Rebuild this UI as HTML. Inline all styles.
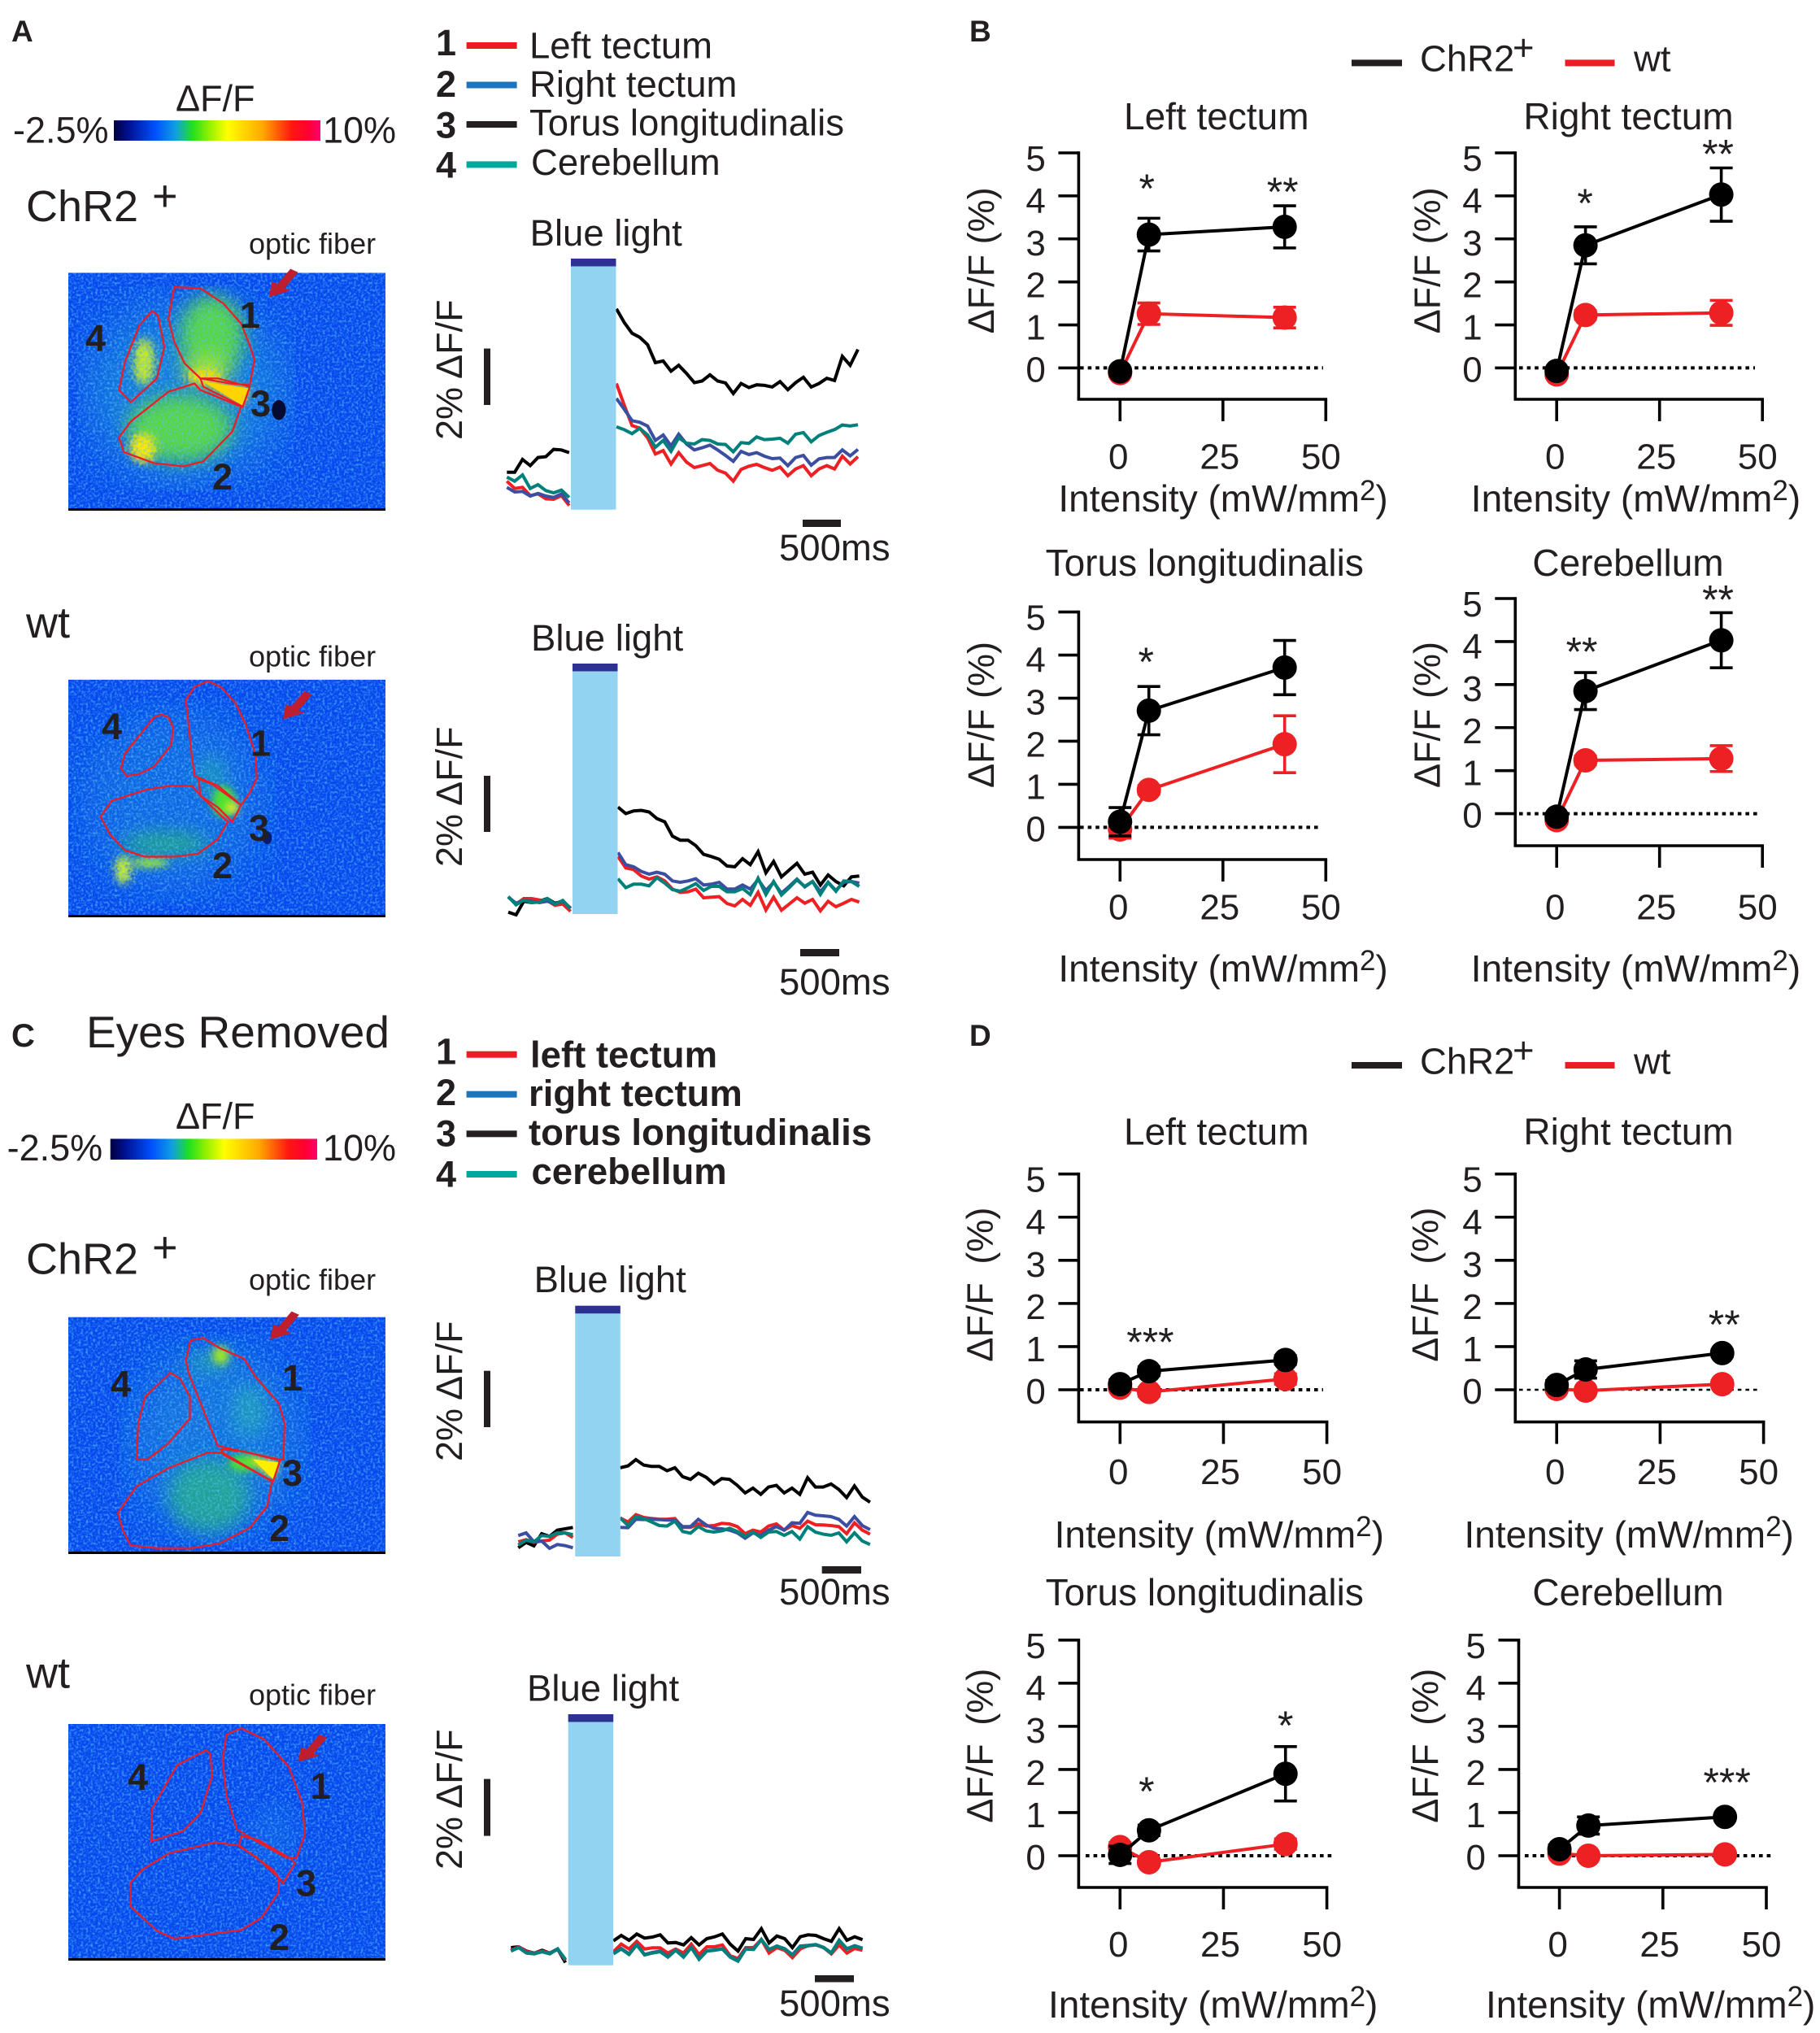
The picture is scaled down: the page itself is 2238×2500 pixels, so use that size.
<!DOCTYPE html>
<html lang="en">
<head>
<meta charset="utf-8">
<title>Optogenetic activation and calcium imaging figure</title>
<style>
  html,body{margin:0;padding:0;background:#fff;}
  svg{display:block;}
  text{font-family:"Liberation Sans",sans-serif;fill:#231f20;white-space:pre;}
  .t45{font-size:45.5px;}
  .t45c{font-size:45px;}
  .t54{font-size:54px;}
  .t36{font-size:36px;}
  .bold{font-weight:bold;}
  .roi{fill:none;stroke:#ed1c24;stroke-width:2.2;vector-effect:non-scaling-stroke;stroke-linejoin:round;}
  .digit{font-size:45px;font-weight:bold;}
</style>
</head>
<body>
<svg id="figure" xmlns="http://www.w3.org/2000/svg" width="2238" height="2500" viewBox="0 0 2238 2500">
  <defs>
    <linearGradient id="cbar" x1="0" x2="1" y1="0" y2="0">
      <stop offset="0" stop-color="#00003c"/>
      <stop offset=".07" stop-color="#001090"/>
      <stop offset=".2" stop-color="#0050ff"/>
      <stop offset=".3" stop-color="#10a0e0"/>
      <stop offset=".38" stop-color="#20e020"/>
      <stop offset=".46" stop-color="#90f000"/>
      <stop offset=".55" stop-color="#ffff00"/>
      <stop offset=".72" stop-color="#ffa800"/>
      <stop offset=".86" stop-color="#ff1810"/>
      <stop offset=".94" stop-color="#ff0030"/>
      <stop offset="1" stop-color="#ff0070"/>
    </linearGradient>
    <filter id="noise" x="0" y="0" width="100%" height="100%">
      <feTurbulence type="fractalNoise" baseFrequency="0.34" numOctaves="2" seed="4"/>
      <feColorMatrix type="matrix" values="0 0 0 0 0.1  0 0 0 0 0.55  0 0 0 0 0.95  2.2 0 0 0 -0.95"/>
    </filter>
    <filter id="mottle" x="-5%" y="-5%" width="110%" height="110%">
      <feTurbulence type="fractalNoise" baseFrequency="0.2 0.11" numOctaves="2" seed="9" result="n"/>
      <feDisplacementMap in="SourceGraphic" in2="n" scale="26" xChannelSelector="R" yChannelSelector="G"/>
    </filter>
    <filter id="blurL" x="-100%" y="-100%" width="300%" height="300%"><feGaussianBlur stdDeviation="40 70"/></filter>
    <filter id="blurM" x="-100%" y="-100%" width="300%" height="300%"><feGaussianBlur stdDeviation="16 28"/></filter>
    <filter id="blurS" x="-100%" y="-100%" width="300%" height="300%"><feGaussianBlur stdDeviation="7 12"/></filter>
    <clipPath id="clipA1"><rect x="84" y="335.5" width="390" height="289.5"/></clipPath>
    <clipPath id="clipA2"><rect x="84" y="835.7" width="390" height="289.3"/></clipPath>
    <clipPath id="clipC1"><rect x="84" y="1619.6" width="390" height="288.4"/></clipPath>
    <clipPath id="clipC2"><rect x="84" y="2120" width="390" height="288"/></clipPath>
  </defs>

  <!-- PANEL A -->
  <text class="bold" font-size="37" x="14" y="51">A</text>
  <text class="t45c" x="216" y="136.7">ΔF/F</text>
  <text class="t45c" x="16" y="175.5">-2.5%</text>
  <rect x="140" y="148" width="254" height="25" fill="url(#cbar)"/>
  <text class="t45c" x="397" y="175.5">10%</text>

  <g>
    <text class="digit" x="536" y="68">1</text>
    <rect x="573.6" y="52" width="62" height="8" fill="#ed1c24"/>
    <text class="t45" x="651" y="71.4">Left tectum</text>
    <text class="digit" x="536" y="119">2</text>
    <rect x="573.6" y="100.5" width="62" height="8" fill="#1c75bc"/>
    <text class="t45" x="651" y="118.8">Right tectum</text>
    <text class="digit" x="536" y="169.5">3</text>
    <rect x="573.6" y="149" width="62" height="8" fill="#231f20"/>
    <text class="t45" x="651" y="166.5">Torus longitudinalis</text>
    <text class="digit" x="536" y="218.5">4</text>
    <rect x="573.6" y="198.4" width="62" height="8" fill="#00a79d"/>
    <text class="t45" x="653" y="215">Cerebellum</text>
  </g>

  <text class="t54" x="32" y="272">ChR2</text>
  <text class="t54" x="187" y="259">+</text>
  <text class="t36" x="306" y="312">optic fiber</text>

  <!-- Image A1 -->
  <g clip-path="url(#clipA1)">
    <rect x="84" y="335.5" width="390" height="290" fill="#0648ee"/>
    <g transform="scale(.7143,.4082)">
      <g filter="url(#mottle)">
        <ellipse cx="320" cy="1180" rx="170" ry="270" fill="#1b9ad0" opacity=".6" filter="url(#blurL)"/>
        <ellipse cx="365" cy="1010" rx="55" ry="120" fill="#58d640" filter="url(#blurM)"/>
        <ellipse cx="355" cy="1110" rx="40" ry="40" fill="#a8e820" filter="url(#blurM)"/>
        <ellipse cx="310" cy="1290" rx="90" ry="100" fill="#58d640" filter="url(#blurM)"/>
        <ellipse cx="248" cy="1090" rx="18" ry="70" fill="#c8e820" filter="url(#blurS)"/>
        <ellipse cx="246" cy="1350" rx="22" ry="45" fill="#ffe800" filter="url(#blurS)"/>
        <ellipse cx="352" cy="1135" rx="30" ry="22" fill="#ffe000" filter="url(#blurS)"/>
      </g>
    </g>
    <rect x="84" y="335.5" width="390" height="290" filter="url(#noise)" opacity=".8"/>
    <g transform="scale(.7143,.4082)">
      <polygon points="350,1150 430,1170 418,1222" fill="#ffd400" filter="url(#blurS)"/>
      <polygon points="350,1150 430,1170 418,1222" fill="#ffd400"/>
      <ellipse cx="480" cy="1235" rx="12" ry="30" fill="#050a30"/>
      <polygon class="roi" points="300,865 345,868 385,915 415,975 430,1040 438,1085 430,1160 395,1155 345,1140 318,1095 300,1030 290,960"/>
      <polygon class="roi" points="335,1155 345,1175 415,1225 400,1300 350,1390 315,1405 265,1395 213,1362 205,1318 225,1270 290,1180"/>
      <polygon class="roi" points="345,1140 375,1140 430,1165 418,1225 350,1165"/>
      <polygon class="roi" points="262,937 272,950 283,1045 270,1140 225,1212 205,1175 215,1090 240,980"/>
    </g>
  </g>
  <g transform="scale(.7143,.4082)">
    <polygon fill="#be1e2d" transform="translate(463,895)" points="0,0 5,-45 15,-40 37,-85 50,-75 27,-27 37,-20"/>
  </g>
  <rect x="84" y="625" width="390" height="3" fill="#000"/>
  <text class="digit" x="295" y="403">1</text>
  <text class="digit" x="261" y="602">2</text>
  <text class="digit" x="308" y="512">3</text>
  <text class="digit" x="105" y="431.5">4</text>

  <text class="t45" x="651.6" y="302">Blue light</text>
  <text class="t45c" transform="translate(568,541) rotate(-90)">2% ΔF/F</text>
  <rect x="595" y="428.6" width="8" height="69.4" fill="#231f20"/>
  <rect x="987" y="639" width="47" height="9" fill="#231f20"/>
  <text class="t45" x="958" y="689">500ms</text>

  <text class="t54" x="32" y="784">wt</text>
  <text class="t36" x="306" y="819.6">optic fiber</text>

  <!-- Image A2 -->
  <g clip-path="url(#clipA2)">
    <rect x="84" y="835.7" width="390" height="290" fill="#0648ee"/>
    <g transform="translate(0,700) scale(.7143,.3571)">
      <g filter="url(#mottle)">
        <ellipse cx="300" cy="800" rx="160" ry="320" fill="#1c8cd8" opacity=".45" filter="url(#blurL)"/>
        <ellipse cx="285" cy="945" rx="75" ry="45" fill="#28c060" opacity=".6" filter="url(#blurM)"/>
        <ellipse cx="365" cy="710" rx="22" ry="70" fill="#20b0a0" opacity=".6" filter="url(#blurM)"/>
        <ellipse cx="258" cy="1012" rx="32" ry="16" fill="#a0e828" filter="url(#blurS)"/>
        <ellipse cx="212" cy="1035" rx="13" ry="50" fill="#d0f020" filter="url(#blurS)"/>
      </g>
    </g>
    <rect x="84" y="835.7" width="390" height="290" filter="url(#noise)" opacity=".8"/>
    <g transform="translate(0,700) scale(.7143,.3571)">
      <ellipse cx="385" cy="800" rx="20" ry="55" fill="#50e030" filter="url(#blurS)"/>
      <ellipse cx="400" cy="822" rx="10" ry="22" fill="#f0f020" filter="url(#blurS)"/>
      <ellipse cx="460" cy="925" rx="8" ry="22" fill="#0a1a70"/>
      <polygon class="roi" points="358,385 380,405 405,460 422,530 440,640 442,720 430,770 415,812 375,745 335,712 330,640 325,540 320,450 335,405"/>
      <polygon class="roi" points="330,745 295,745 250,760 192,798 173,852 190,915 215,968 250,990 300,990 340,980 375,930 392,870 350,790"/>
      <polygon class="roi" points="342,722 365,740 415,812 400,870 375,820 345,780"/>
      <polygon class="roi" points="278,500 290,510 298,545 295,605 265,680 240,705 218,712 208,685 215,635 245,560 265,510"/>
      <polygon fill="#be1e2d" transform="translate(487,517) scale(1,1.14)" points="0,0 5,-45 15,-40 37,-85 50,-75 27,-27 37,-20"/>
    </g>
  </g>
  <rect x="84" y="1125" width="390" height="3" fill="#000"/>
  <text class="digit" x="308" y="929.6">1</text>
  <text class="digit" x="261" y="1080">2</text>
  <text class="digit" x="306" y="1034">3</text>
  <text class="digit" x="125" y="909">4</text>

  <text class="t45" x="653" y="800">Blue light</text>
  <text class="t45c" transform="translate(568,1066) rotate(-90)">2% ΔF/F</text>
  <rect x="595" y="954" width="8" height="69" fill="#231f20"/>
  <rect x="984" y="1167" width="48" height="9" fill="#231f20"/>
  <text class="t45" x="958" y="1223">500ms</text>

  <!-- PANEL C -->
  <text class="bold" font-size="40" x="14" y="1287">C</text>
  <text font-size="55" x="106" y="1288">Eyes Removed</text>
  <text class="t45c" x="216" y="1387.8">ΔF/F</text>
  <text class="t45c" x="8.6" y="1427">-2.5%</text>
  <rect x="135.7" y="1400.4" width="254.3" height="25.6" fill="url(#cbar)"/>
  <text class="t45c" x="397" y="1427">10%</text>

  <g>
    <text class="digit" x="536" y="1308.5">1</text>
    <rect x="573.6" y="1292.7" width="62" height="8" fill="#ed1c24"/>
    <text class="t45 bold" x="652" y="1312.7">left tectum</text>
    <text class="digit" x="536" y="1359">2</text>
    <rect x="573.6" y="1341.7" width="62" height="8" fill="#1c75bc"/>
    <text class="t45 bold" x="650" y="1360">right tectum</text>
    <text class="digit" x="536" y="1409.6">3</text>
    <rect x="573.6" y="1390.3" width="62" height="8" fill="#231f20"/>
    <text class="t45 bold" x="650" y="1408">torus longitudinalis</text>
    <text class="digit" x="536" y="1459.5">4</text>
    <rect x="573.6" y="1440" width="62" height="8" fill="#00a79d"/>
    <text class="t45 bold" x="653.5" y="1456">cerebellum</text>
  </g>

  <text class="t54" x="32" y="1566.5">ChR2</text>
  <text class="t54" x="187" y="1552">+</text>
  <text class="t36" x="306" y="1586">optic fiber</text>

  <!-- Image C1 -->
  <g clip-path="url(#clipC1)">
    <rect x="84" y="1619.6" width="390" height="289" fill="#0648ee"/>
    <g transform="translate(0,1240) scale(.7143,.4082)">
      <g filter="url(#mottle)">
        <ellipse cx="370" cy="1300" rx="150" ry="290" fill="#1c90d4" opacity=".55" filter="url(#blurL)"/>
        <ellipse cx="360" cy="1470" rx="70" ry="110" fill="#28b878" opacity=".7" filter="url(#blurM)"/>
        <ellipse cx="430" cy="1210" rx="30" ry="80" fill="#20a8b0" opacity=".7" filter="url(#blurM)"/>
        <ellipse cx="360" cy="1065" rx="40" ry="30" fill="#28b890" opacity=".6" filter="url(#blurM)"/>
      </g>
    </g>
    <rect x="84" y="1619.6" width="390" height="289" filter="url(#noise)" opacity=".8"/>
    <g transform="translate(0,1240) scale(.7143,.4082)">
      <ellipse cx="380" cy="1045" rx="14" ry="28" fill="#a0e828" filter="url(#blurS)"/>
      <ellipse cx="420" cy="1370" rx="26" ry="26" fill="#50e030" filter="url(#blurS)"/>
      <polygon points="425,1350 480,1368 470,1420" fill="#ffee00" filter="url(#blurS)"/>
      <polygon points="435,1358 480,1368 470,1418" fill="#ffee00"/>
      <polygon class="roi" points="328,1000 350,993 380,1025 420,1055 440,1110 480,1190 490,1250 488,1360 470,1355 375,1318 350,1210 325,1100 320,1060"/>
      <polygon class="roi" points="358,1338 385,1340 468,1425 460,1500 430,1565 378,1612 330,1626 270,1626 225,1618 212,1575 203,1520 235,1440 290,1385"/>
      <polygon class="roi" points="380,1328 420,1335 482,1362 470,1425 385,1345"/>
      <polygon class="roi" points="293,1098 310,1115 327,1170 327,1235 290,1310 255,1358 235,1358 238,1250 250,1170"/>
    </g>
  </g>
  <g transform="translate(0,1240) scale(.7143,.4082)">
    <polygon fill="#be1e2d" transform="translate(465,998)" points="0,0 5,-45 15,-40 37,-85 50,-75 27,-27 37,-20"/>
  </g>
  <rect x="84" y="1908" width="390" height="3" fill="#000"/>
  <text class="digit" x="347" y="1710">1</text>
  <text class="digit" x="331" y="1895">2</text>
  <text class="digit" x="347" y="1827">3</text>
  <text class="digit" x="136" y="1717.6">4</text>

  <text class="t45" x="656.6" y="1589">Blue light</text>
  <text class="t45c" transform="translate(568,1797) rotate(-90)">2% ΔF/F</text>
  <rect x="595" y="1685.7" width="8" height="69.3" fill="#231f20"/>
  <rect x="1010.7" y="1926" width="48.3" height="9" fill="#231f20"/>
  <text class="t45" x="958" y="1973">500ms</text>

  <text class="t54" x="32" y="2075.7">wt</text>
  <text class="t36" x="306" y="2096.7">optic fiber</text>

  <!-- Image C2 -->
  <g clip-path="url(#clipC2)">
    <rect x="84" y="2120" width="390" height="289" fill="#0648ee"/>
    <g transform="translate(0,1880) scale(.7143,.3954)">
      <ellipse cx="470" cy="960" rx="40" ry="110" fill="#1a80e0" opacity=".3" filter="url(#blurM)"/>
    </g>
    <rect x="84" y="2120" width="390" height="289" filter="url(#noise)" opacity=".8"/>
    <g transform="translate(0,1880) scale(.7143,.3954)">
      <polygon class="roi" points="415,620 455,655 497,740 520,850 525,950 510,1025 490,1020 440,970 408,935 390,830 383,720 390,640"/>
      <polygon class="roi" points="370,975 410,985 440,1020 480,1085 480,1130 450,1210 415,1248 300,1275 270,1250 225,1175 225,1100 245,1060 290,1010"/>
      <polygon class="roi" points="415,955 445,968 500,1025 508,1040 487,1103 470,1060 412,985"/>
      <polygon class="roi" points="355,688 362,700 365,770 345,885 315,940 260,972 262,870 305,735"/>
      <polygon fill="#be1e2d" transform="translate(513,725)" points="0,0 5,-45 15,-40 37,-85 50,-75 27,-27 37,-20"/>
    </g>
  </g>
  <rect x="84" y="2408" width="390" height="3" fill="#000"/>
  <text class="digit" x="381.6" y="2212">1</text>
  <text class="digit" x="331" y="2398">2</text>
  <text class="digit" x="364" y="2331.6">3</text>
  <text class="digit" x="157" y="2201">4</text>

  <text class="t45" x="648" y="2091.5">Blue light</text>
  <text class="t45c" transform="translate(568,2299) rotate(-90)">2% ΔF/F</text>
  <rect x="595" y="2187.6" width="8" height="70" fill="#231f20"/>
  <rect x="1002" y="2429" width="48" height="8.5" fill="#231f20"/>
  <text class="t45" x="958" y="2479">500ms</text>

  <!-- PANEL B legend -->
  <text class="bold" font-size="37" x="1192" y="51">B</text>
  <rect x="1662" y="73.4" width="62" height="8" fill="#231f20"/>
  <text class="t45" x="1746" y="87.5">ChR2</text>
  <text class="t45" x="1860" y="74">+</text>
  <rect x="1924.5" y="73.4" width="61" height="8" fill="#ed1c24"/>
  <text class="t45" x="2009" y="87.5">wt</text>

  <!-- PANEL D legend -->
  <text class="bold" font-size="37" x="1192" y="1286">D</text>
  <rect x="1662" y="1306" width="62" height="8" fill="#231f20"/>
  <text class="t45" x="1746" y="1320.4">ChR2</text>
  <text class="t45" x="1860" y="1307">+</text>
  <rect x="1924.5" y="1306" width="61" height="8" fill="#ed1c24"/>
  <text class="t45" x="2009" y="1320.4">wt</text>

  <g id="traces"></g>
  <g id="charts"></g>
</svg>

<script>
/* ---------- dose-response chart data (deltaF/F %) ---------- */
const intensities = [0, 7, 40];
const xTickValues = [0, 25, 50];
const yTickValues = [0, 1, 2, 3, 4, 5];
const yTitle = "ΔF/F (%)";

const bLeftChr = [-0.08, 3.10, 3.28];
const bLeftChrErr = [0.08, 0.38, 0.49];
const bLeftWt = [-0.12, 1.26, 1.17];
const bLeftWtErr = [0.08, 0.25, 0.24];

const bRightChr = [-0.07, 2.85, 4.03];
const bRightChrErr = [0.08, 0.43, 0.62];
const bRightWt = [-0.15, 1.23, 1.28];
const bRightWtErr = [0.08, 0.1, 0.29];

const bTorusChr = [0.13, 2.71, 3.71];
const bTorusChrErr = [0.33, 0.56, 0.63];
const bTorusWt = [-0.05, 0.87, 1.93];
const bTorusWtErr = [0.2, 0.1, 0.66];

const bCerebChr = [-0.07, 2.85, 4.03];
const bCerebChrErr = [0.08, 0.43, 0.64];
const bCerebWt = [-0.15, 1.24, 1.28];
const bCerebWtErr = [0.08, 0.1, 0.3];

const dLeftChr = [0.13, 0.43, 0.69];
const dLeftChrErr = [0.1, 0.1, 0.1];
const dLeftWt = [0.05, -0.05, 0.25];
const dLeftWtErr = [0.05, 0.1, 0.12];

const dRightChr = [0.11, 0.47, 0.85];
const dRightChrErr = [0.1, 0.2, 0.08];
const dRightWt = [0.02, -0.02, 0.13];
const dRightWtErr = [0.05, 0.05, 0.08];

const dTorusChr = [0.02, 0.59, 1.90];
const dTorusChrErr = [0.2, 0.12, 0.63];
const dTorusWt = [0.20, -0.15, 0.27];
const dTorusWtErr = [0.1, 0.05, 0.12];

const dCerebChr = [0.15, 0.70, 0.90];
const dCerebChrErr = [0.1, 0.2, 0.06];
const dCerebWt = [0.05, 0.00, 0.03];
const dCerebWtErr = [0.05, 0.05, 0.05];

/* significance marks: [intensity, %, label] */
const bLeftStars = [[6.5, 4.3, "*"], [39.5, 4.22, "**"]];
const bRightStars = [[6.9, 3.96, "*"], [39.2, 5.1, "**"]];
const bTorusStars = [[6.3, 3.97, "*"]];
const bCerebStars = [[6.1, 3.89, "**"], [39.2, 5.1, "**"]];
const dLeftStars = [[7.3, 1.23, "***"]];
const dRightStars = [[40.5, 1.64, "**"]];
const dTorusStars = [[6.4, 1.62, "*"], [40.0, 3.15, "*"]];
const dCerebStars = [[40.5, 1.83, "***"]];

/* ---------- trace data: ΔF/F signal, 104 units = 1 % ---------- */
const signalPerPercent = 104;

const a1BlackPre = [138,138,185,162,192,195,222,220,210];
const a1BlackPost = [740,690,650,635,608,542,548,510,532,502,468,474,497,474,467,428,465,450,460,458,452,472,442,468,488,452,465,484,476,565,532,590];
const a1RedPre = [105,78,82,52,58,40,38,52,15];
const a1RedPost = [465,385,310,300,265,205,218,168,210,175,155,162,170,145,135,105,148,160,167,155,145,157,125,150,162,125,150,162,150,197,168,195];
const a1BluePre = [82,65,67,50,60,50,45,58,25];
const a1BluePost = [410,370,328,322,308,255,275,235,278,242,220,228,238,220,200,178,215,203,210,197,188,190,162,192,200,164,187,192,192,220,198,222];
const a1TealPre = [120,105,128,78,92,70,62,72,45];
const a1TealPost = [305,295,280,300,275,230,255,215,265,245,242,258,255,242,240,213,247,244,268,258,260,263,245,278,284,250,273,285,295,312,308,313];

const a2BlackPre = [7,-3,47,42,47,57,40,47,22];
const a2BlackPost = [394,370,380,382,376,352,340,287,272,272,252,220,212,202,177,174,204,182,230,152,194,137,162,187,147,154,107,144,120,104,137,140];
const a2RedPre = [64,37,57,57,52,50,32,37,10];
const a2RedPost = [212,170,164,140,129,137,122,92,80,82,92,60,62,64,39,30,54,32,80,15,62,14,37,60,40,54,12,47,27,40,54,44];
const a2BluePre = [62,40,50,47,42,47,37,47,22];
const a2BluePost = [227,182,174,157,147,154,147,122,117,122,130,107,110,117,92,92,107,92,127,87,117,77,102,129,100,120,82,117,87,117,120,114];
const a2TealPre = [64,34,52,42,44,57,37,50,20];
const a2TealPost = [130,97,110,110,104,134,114,90,84,97,112,87,102,102,82,82,94,72,132,72,120,70,97,126,102,120,72,117,84,122,120,102];

const c1BlackPre = [32,52,39,84,74,97,102,107];
const c1BlackPost = [327,334,357,337,332,332,316,327,294,284,307,292,267,287,284,262,234,252,229,256,262,234,252,229,290,256,256,267,247,217,260,219,200];
const c1RedPre = [54,62,52,57,60,82,87,70];
const c1RedPost = [142,127,154,144,140,137,137,140,107,107,120,112,114,122,120,110,84,97,90,112,120,97,114,104,130,117,116,114,110,84,124,97,82];
const c1BluePre = [77,87,54,57,30,44,40,32];
const c1BluePost = [107,106,137,136,137,136,134,134,110,110,137,116,104,102,97,87,67,87,77,97,110,97,124,122,162,152,150,147,137,112,147,114,99];
const c1TealPre = [42,60,54,77,74,87,87,80];
const c1TealPost = [142,114,147,140,127,114,112,130,92,86,110,94,90,94,104,92,74,90,70,90,92,78,92,64,110,90,82,78,87,54,87,57,44];

const c2BlackPre = [65,68,52,45,55,45,60,10];
const c2BlackPost = [90,110,92,115,100,104,112,82,84,75,102,75,98,105,115,78,52,98,95,135,82,108,98,65,105,112,110,98,88,135,92,105,94];
const c2RedPre = [55,68,50,45,52,45,58,18];
const c2RedPost = [50,78,60,88,60,64,64,45,60,45,78,40,68,68,75,35,25,65,65,95,45,65,55,28,60,72,75,65,42,75,45,62,55];
const c2BluePre = [53,66,46,43,50,43,60,20];
const c2BluePost = [44,62,42,76,40,47,52,32,56,32,66,24,54,56,61,32,17,61,59,95,58,71,61,39,71,73,76,66,46,92,61,72,63];
const c2TealPre = [52,65,45,42,50,42,60,22];
const c2TealPost = [42,60,40,75,38,45,50,30,55,30,65,22,52,55,60,30,15,60,58,95,58,70,60,38,70,72,76,65,45,92,60,72,62];

/* ---------- drawing ---------- */
const NS = "http://www.w3.org/2000/svg";
function mk(parent, tag, attrs, txt) {
  const el = document.createElementNS(NS, tag);
  for (const k in attrs) el.setAttribute(k, attrs[k]);
  if (txt !== undefined) el.textContent = txt;
  parent.appendChild(el);
  return el;
}

function drawTraces(key, g, lay, series) {
  const root = mk(g, "g", {});
  
  
  const xAt = i => lay.x0 + i * lay.step;
  const yAt = v => lay.base - v * (lay.pxPerPercent / signalPerPercent);
  series.forEach(s => {
    const sg = mk(root, "g", {});
    
    
    [[s.pre, 0], [s.post, lay.postStart]].forEach(([vals, start]) => {
      const d = vals.map((v, i) => (i ? "L" : "M") + xAt(start + i).toFixed(1) + " " + yAt(v).toFixed(1)).join("");
      const p = mk(sg, "path", {d: d, fill: "none", stroke: s.color, "stroke-width": 4, "stroke-linejoin": "miter"});
      
      
    });
  });
  const bar = mk(root, "rect", {x: lay.barX, y: lay.barTop, width: 55.5, height: lay.base - lay.barTop, fill: "#91d3f0"});
  
  
  const top = mk(root, "rect", {x: lay.barX, y: lay.barTop, width: 55.5, height: 9.5, fill: "#2e3192"});
  
  
}

const traceG = document.getElementById("traces");
const colBlack = "#000", colRed = "#ed2024", colBlue = "#3b4ea2", colTeal = "#00807a";
drawTraces("a-chr2", traceG, {x0: 623.3, step: 9.58, postStart: 14.06, base: 626.7, pxPerPercent: 34.7, barX: 702, barTop: 318}, [
  {name: "torus", color: colBlack, pre: a1BlackPre, post: a1BlackPost},
  {name: "left-tectum", color: colRed, pre: a1RedPre, post: a1RedPost},
  {name: "right-tectum", color: colBlue, pre: a1BluePre, post: a1BluePost},
  {name: "cerebellum", color: colTeal, pre: a1TealPre, post: a1TealPost}
]);
drawTraces("a-wt", traceG, {x0: 625, step: 9.57, postStart: 14.1, base: 1124, pxPerPercent: 34.7, barX: 704, barTop: 816}, [
  {name: "torus", color: colBlack, pre: a2BlackPre, post: a2BlackPost},
  {name: "left-tectum", color: colRed, pre: a2RedPre, post: a2RedPost},
  {name: "right-tectum", color: colBlue, pre: a2BluePre, post: a2BluePost},
  {name: "cerebellum", color: colTeal, pre: a2TealPre, post: a2TealPost}
]);
drawTraces("c-chr2", traceG, {x0: 637.3, step: 9.6, postStart: 13.06, base: 1914, pxPerPercent: 34.7, barX: 707.3, barTop: 1605.7}, [
  {name: "torus", color: colBlack, pre: c1BlackPre, post: c1BlackPost},
  {name: "left-tectum", color: colRed, pre: c1RedPre, post: c1RedPost},
  {name: "right-tectum", color: colBlue, pre: c1BluePre, post: c1BluePost},
  {name: "cerebellum", color: colTeal, pre: c1TealPre, post: c1TealPost}
]);
drawTraces("c-wt", traceG, {x0: 628.3, step: 9.57, postStart: 13.17, base: 2416.7, pxPerPercent: 34.7, barX: 698.7, barTop: 2108}, [
  {name: "torus", color: colBlack, pre: c2BlackPre, post: c2BlackPost},
  {name: "left-tectum", color: colRed, pre: c2RedPre, post: c2RedPost},
  {name: "right-tectum", color: colBlue, pre: c2BluePre, post: c2BluePost},
  {name: "cerebellum", color: colTeal, pre: c2TealPre, post: c2TealPost}
]);

function drawChart(key, L, d) {
  const chartsG = document.getElementById("charts");
  const g = mk(chartsG, "g", {});
  
  
  const X = v => L.x0 + v * (L.x50 - L.x0) / 50;
  const Y = v => L.y0 + v * (L.y5 - L.y0) / 5;
  const sw = 3.6;

  const title = mk(g, "text", {x: L.titleX - 3, y: L.titleY, "font-size": 46}, d.title);
  
  

  const yt = mk(g, "text", {transform: "translate(" + L.ylX + "," + L.ylY + ") rotate(-90)", "font-size": 45, "word-spacing": (L.ylWord || 0) + "px"}, yTitle);
  
  

  const yAxis = mk(g, "line", {x1: L.ax, x2: L.ax, y1: Y(5) - sw / 2, y2: L.xAxisY, stroke: "#000", "stroke-width": sw});
  
  
  const xAxis = mk(g, "line", {x1: L.ax - sw / 2, x2: X(50) + sw / 2, y1: L.xAxisY, y2: L.xAxisY, stroke: "#000", "stroke-width": sw});
  
  

  yTickValues.forEach(v => {
    const t = mk(g, "line", {x1: L.ax - 25, x2: L.ax, y1: Y(v), y2: Y(v), stroke: "#000", "stroke-width": sw});
    
    
    const l = mk(g, "text", {x: L.ax - 65, y: Y(v) + 17 + v, "font-size": 44}, String(v));
    
    
  });
  xTickValues.forEach((v, i) => {
    const t = mk(g, "line", {x1: X(v), x2: X(v), y1: L.xAxisY, y2: L.xAxisY + 27, stroke: "#000", "stroke-width": sw});
    
    
    const l = mk(g, "text", {x: X(v) - 2 - i * 2, y: L.xAxisY + L.xLabelDy, "font-size": 44, "text-anchor": "middle"}, String(v));
    
    
  });

  const xt = mk(g, "text", {x: L.xtX - 3, y: L.xtY, "font-size": 46});
  
  
  mk(xt, "tspan", {}, "Intensity (mW/mm");
  mk(xt, "tspan", {dy: -14, "font-size": 35}, "2");
  mk(xt, "tspan", {dy: 14}, ")");

  const zero = mk(g, "line", {x1: L.dotA, x2: L.dotB, y1: Y(0), y2: Y(0), stroke: "#000", "stroke-width": L.dotW || 4, "stroke-dasharray": "4.6 5"});
  
  

  [{name: "wt", color: "#ed2024", vals: d.wt, err: d.wtErr},
   {name: "chr2", color: "#000", vals: d.chr, err: d.chrErr}].forEach(s => {
    const sg = mk(g, "g", {});
    
    
    const pts = s.vals.map((v, i) => X(intensities[i]).toFixed(1) + "," + Y(v).toFixed(1)).join(" ");
    const line = mk(sg, "polyline", {points: pts, fill: "none", stroke: s.color, "stroke-width": 4});
    
    
    s.vals.forEach((v, i) => {
      const cx = X(intensities[i]);
      const e = s.err[i];
      const eb = mk(sg, "path", {
        d: "M" + cx + " " + Y(v + e) + "V" + Y(v - e) +
           "M" + (cx - 14) + " " + Y(v + e) + "H" + (cx + 14) +
           "M" + (cx - 14) + " " + Y(v - e) + "H" + (cx + 14),
        fill: "none", stroke: s.color, "stroke-width": sw});
      
      
      const c = mk(sg, "circle", {cx: cx, cy: Y(v), r: 15, fill: s.color});
      
      
    });
  });

  d.stars.forEach(st => {
    const t = mk(g, "text", {x: X(st[0]), y: Y(st[1]) + 24, "font-size": 50, "text-anchor": "middle"}, st[2]);
    
    
  });
}

const colL = {ax: 1326.4, x0: 1377.3, x50: 1630.3, ylX: 1222};
const colR = {ax: 1863.3, x0: 1914.2, x50: 2167.2, ylX: 1770.5};

drawChart("b-left-tectum",
  {ax: colL.ax, x0: colL.x0, x50: colL.x50, y0: 452.4, y5: 188, xAxisY: 491, xLabelDy: 85.6, titleX: 1385, titleY: 159, ylX: colL.ylX, ylY: 410.4, xtX: 1304.4, xtY: 629, dotA: 1328, dotB: 1627},
  {title: "Left tectum", chr: bLeftChr, chrErr: bLeftChrErr, wt: bLeftWt, wtErr: bLeftWtErr, stars: bLeftStars});
drawChart("b-right-tectum",
  {ax: colR.ax, x0: colR.x0, x50: colR.x50, y0: 452.4, y5: 188, xAxisY: 491, xLabelDy: 85.6, titleX: 1876.4, titleY: 159, ylX: colR.ylX, ylY: 410.4, xtX: 1811.8, xtY: 629, dotA: 1868, dotB: 2158},
  {title: "Right tectum", chr: bRightChr, chrErr: bRightChrErr, wt: bRightWt, wtErr: bRightWtErr, stars: bRightStars});
drawChart("b-torus-longitudinalis",
  {ax: colL.ax, x0: colL.x0, x50: colL.x50, y0: 1017.4, y5: 752.6, xAxisY: 1057, xLabelDy: 73.7, titleX: 1288.6, titleY: 707.8, ylX: colL.ylX, ylY: 969, xtX: 1304.4, xtY: 1207, dotA: 1328, dotB: 1625},
  {title: "Torus longitudinalis", chr: bTorusChr, chrErr: bTorusChrErr, wt: bTorusWt, wtErr: bTorusWtErr, stars: bTorusStars});
drawChart("b-cerebellum",
  {ax: colR.ax, x0: colR.x0, x50: colR.x50, y0: 1000.6, y5: 736, xAxisY: 1040, xLabelDy: 90.7, titleX: 1887.4, titleY: 707.8, ylX: colR.ylX, ylY: 969, xtX: 1811.8, xtY: 1207, dotA: 1868, dotB: 2164},
  {title: "Cerebellum", chr: bCerebChr, chrErr: bCerebChrErr, wt: bCerebWt, wtErr: bCerebWtErr, stars: bCerebStars});
drawChart("d-left-tectum",
  {ax: colL.ax, x0: colL.x0, x50: 1631.6, y0: 1709, y5: 1443.7, xAxisY: 1748.6, xLabelDy: 76.4, titleX: 1385, titleY: 1407.3, ylX: 1220.5, ylY: 1674.7, ylWord: 10, xtX: 1299.6, xtY: 1903, dotA: 1328, dotB: 1627},
  {title: "Left tectum", chr: dLeftChr, chrErr: dLeftChrErr, wt: dLeftWt, wtErr: dLeftWtErr, stars: dLeftStars});
drawChart("d-right-tectum",
  {ax: colR.ax, x0: colR.x0, x50: 2168.6, y0: 1709, y5: 1443.7, xAxisY: 1748.6, xLabelDy: 76.4, titleX: 1876.4, titleY: 1407.3, ylX: 1768, ylY: 1674.7, ylWord: 10, xtX: 1803.5, xtY: 1903, dotA: 1868, dotB: 2164, dotW: 2.6},
  {title: "Right tectum", chr: dRightChr, chrErr: dRightChrErr, wt: dRightWt, wtErr: dRightWtErr, stars: dRightStars});
drawChart("d-torus-longitudinalis",
  {ax: colL.ax, x0: colL.x0, x50: 1631.6, y0: 2282, y5: 2016.8, xAxisY: 2321, xLabelDy: 85, titleX: 1288.6, titleY: 1974, ylX: 1220.5, ylY: 2241.8, ylWord: 10, xtX: 1292, xtY: 2481, dotA: 1335, dotB: 1641},
  {title: "Torus longitudinalis", chr: dTorusChr, chrErr: dTorusChrErr, wt: dTorusWt, wtErr: dTorusWtErr, stars: dTorusStars});
drawChart("d-cerebellum",
  {ax: 1867.5, x0: 1917.6, x50: 2172, y0: 2282, y5: 2016.8, xAxisY: 2321, xLabelDy: 85, titleX: 1887.4, titleY: 1974, ylX: 1768, ylY: 2241.8, ylWord: 10, xtX: 1830, xtY: 2481, dotA: 1875, dotB: 2181},
  {title: "Cerebellum", chr: dCerebChr, chrErr: dCerebChrErr, wt: dCerebWt, wtErr: dCerebWtErr, stars: dCerebStars});
</script>
</body>
</html>
